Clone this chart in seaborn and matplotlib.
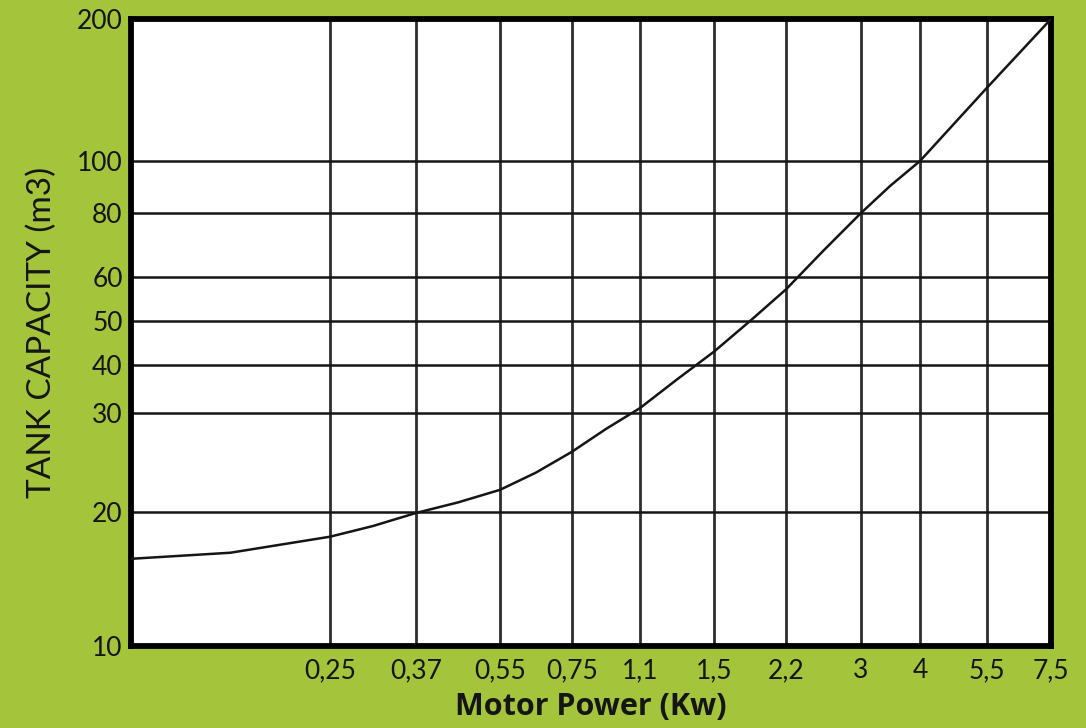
import matplotlib
matplotlib.use("Agg")
import matplotlib.pyplot as plt
import seaborn as sns
import numpy as np
import pandas as pd

# motor power (kW) vs tank capacity (m3) (incl. points between grid lines)
power = [0.1, 0.158, 0.25, 0.304, 0.37, 0.451, 0.55, 0.642, 0.75, 0.908, 1.1,
         1.285, 1.5, 1.817, 2.2, 2.57, 3, 3.46, 4, 5.5, 7.5]
capacity = [15.7, 16.2, 17.6, 18.6, 19.9, 20.8, 21.9, 23.5, 25.6, 28.1, 30.9,
            36.7, 42.8, 50.0, 57.0, 67.6, 80.0, 89.9, 100.0, 143.0, 200.0]
x_ticks = [0.25, 0.37, 0.55, 0.75, 1.1, 1.5, 2.2, 3, 4, 5.5, 7.5]
x_labels = ['0,25', '0,37', '0,55', '0,75', '1,1', '1,5', '2,2', '3', '4', '5,5', '7,5']
y_ticks = [10, 20, 30, 40, 50, 60, 80, 100, 200]

# the printed grid is only roughly logarithmic: where each grid value sits (pixels in the original)
x_grid_vals = [0.1] + x_ticks
x_grid_px = [131, 330, 416, 500, 572, 640, 714, 786, 861, 920, 987, 1051]
y_grid_px = [646, 512, 413, 365, 321, 277, 213, 161, 19]


def make_scale(vals, px):
    lv = np.log10(vals)
    fr = (np.array(px, float) - px[0]) / (px[-1] - px[0])

    def fwd(v):
        v = np.clip(np.asarray(v, float), 1e-6, None)
        return np.interp(np.log10(v), lv, fr, left=-1, right=2)

    def inv(f):
        return 10 ** np.interp(np.asarray(f, float), fr, lv)

    return fwd, inv


df = pd.DataFrame({'power': power, 'capacity': capacity})

green = '#a3c43b'
ink = '#151515'

sns.set_style('white')
plt.rcParams['font.family'] = ['Lato', 'DejaVu Sans']

W, H = 1086, 728
fig = plt.figure(figsize=(10.86, 7.28), dpi=100, facecolor=green)
ax = fig.add_axes([131 / W, (H - 646) / H, (1051 - 131) / W, (646 - 19) / H])
ax.set_facecolor('white')

ax.set_xscale('function', functions=make_scale(x_grid_vals, x_grid_px))
ax.set_yscale('function', functions=make_scale(y_ticks, y_grid_px))
ax.set_xlim(0.1, 7.5)
ax.set_ylim(10, 200)

# grid lines
for xv in x_ticks:
    ax.axvline(xv, color='#2e2e2e', lw=2, zorder=1)
for yv in y_ticks[1:-1]:
    ax.axhline(yv, color='#151515', lw=1.8, zorder=1)

sns.lineplot(data=df, x='power', y='capacity', color=ink, lw=1.8, ax=ax, zorder=3)

ax.set_xticks(x_ticks)
ax.set_xticklabels(x_labels)
ax.set_yticks(y_ticks)
ax.set_yticklabels([str(v) for v in y_ticks])
ax.minorticks_off()
ax.tick_params(axis='both', length=0, labelsize=19, colors=ink)
ax.tick_params(axis='x', pad=9)
ax.tick_params(axis='y', pad=6)

for s in ax.spines.values():
    s.set_color('black')
    s.set_linewidth(4.2)
    s.set_visible(True)

ax.set_xlabel('Motor Power (Kw)', fontsize=22, fontweight='bold', color=ink,
              labelpad=6, family=['Open Sans', 'DejaVu Sans'])
ax.set_ylabel('TANK CAPACITY (m3)', fontsize=24, color=ink, labelpad=14)

fig.savefig('out.png', dpi=100, facecolor=green)
